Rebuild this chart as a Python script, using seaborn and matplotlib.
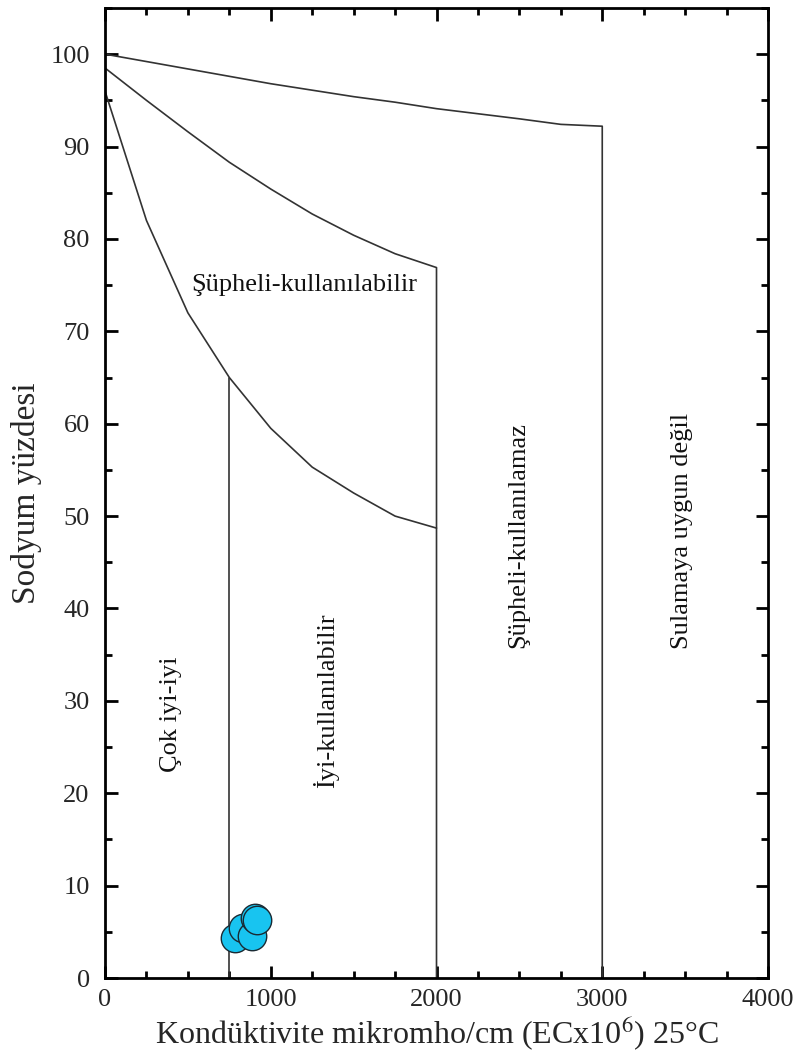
import numpy as np
import pandas as pd
import matplotlib
matplotlib.use("Agg")
import matplotlib.pyplot as plt
import seaborn as sns
from matplotlib.ticker import MultipleLocator

# ---- data ----
ec_top = [0, 500, 1000, 1500, 1750, 2000, 2500, 2750, 3000, 3000]
na_top = [100, 98.4, 96.8, 95.4, 94.8, 94.1, 93.0, 92.4, 92.2, 0]

ec_mid = [0, 250, 500, 750, 1000, 1250, 1500, 1750, 2000, 2000]
na_mid = [98.5, 95.0, 91.6, 88.3, 85.4, 82.7, 80.4, 78.4, 76.9, 0]

ec_low = [0, 250, 500, 750, 1000, 1250, 1500, 1750, 2000]
na_low = [96, 82, 72, 65, 59.5, 55.3, 52.5, 50.0, 48.7]

ec_v750 = [750, 750]
na_v750 = [65, 0]

sample_ec = [783, 831, 885, 904, 915]
sample_na = [4.3, 5.4, 4.6, 6.5, 6.3]

region_labels = ["Şüpheli-kullanılabilir", "Çok iyi-iyi", "İyi-kullanılabilir",
                 "Şüpheli-kullanılamaz", "Sulamaya uygun değil"]
region_x = [1205, 398, 1335, 2494, 3482]
region_y = [75.0, 28.6, 30.0, 48.0, 48.4]
region_rot = [0, 90, 90, 90, 90]

sns.set_theme(style="ticks")
plt.rcParams['font.family'] = ['Liberation Serif', 'DejaVu Serif']
plt.rcParams['mathtext.fontset'] = 'stix'

fig = plt.figure(figsize=(7.98, 10.61), dpi=100)
ax = fig.add_axes([0.1316, 0.0782, 0.9624 - 0.1316, 0.9925 - 0.0782])

line_kw = dict(color="#333333", linewidth=1.2, sort=False, estimator=None, ax=ax, legend=False)
for xs, ys in [(ec_top, na_top), (ec_mid, na_mid), (ec_low, na_low), (ec_v750, na_v750)]:
    df = pd.DataFrame({"x": xs, "y": ys})
    sns.lineplot(data=df, x="x", y="y", **line_kw)

pts = pd.DataFrame({"EC": sample_ec, "Na": sample_na})
sns.scatterplot(data=pts, x="EC", y="Na", ax=ax, s=420, color="#18c4f0",
                edgecolor="#1a2a33", linewidth=1.0, zorder=5, legend=False, clip_on=False)

for lab, x, y, r in zip(region_labels, region_x, region_y, region_rot):
    ax.text(x, y, lab, rotation=r, ha="center", va="center", fontsize=19, color="#111111")

ax.set_xlim(0, 4000)
ax.set_ylim(0, 105)
ax.xaxis.set_major_locator(MultipleLocator(1000))
ax.xaxis.set_minor_locator(MultipleLocator(250))
ax.yaxis.set_major_locator(MultipleLocator(10))
ax.yaxis.set_minor_locator(MultipleLocator(5))
ax.tick_params(which="both", direction="in", top=True, right=True, width=2, color="black")
ax.tick_params(which="major", length=9, labelsize=19)
ax.tick_params(axis="x", which="major", pad=8)
ax.tick_params(axis="y", which="major", pad=11)
ax.tick_params(which="minor", length=5)
for sp in ax.spines.values():
    sp.set_linewidth(2)
    sp.set_color("black")

ax.set_xlabel(r"Kondüktivite mikromho/cm (ECx10$^{6}$) 25°C", fontsize=23, labelpad=2)
ax.set_ylabel("Sodyum yüzdesi", fontsize=24, labelpad=6)

fig.savefig("out.png", dpi=100, facecolor="white")
